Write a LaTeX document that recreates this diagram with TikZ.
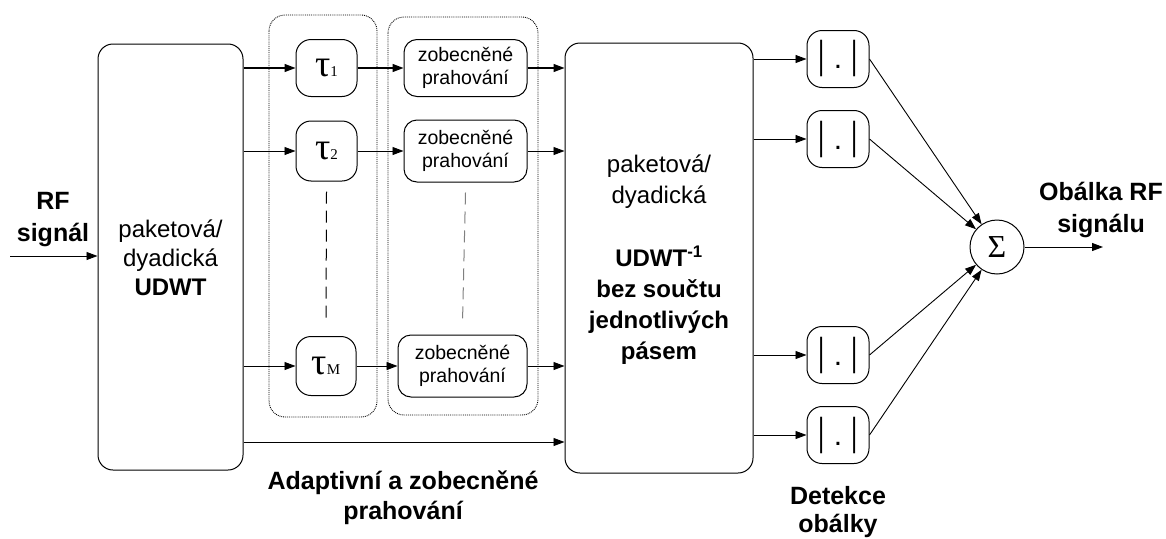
\documentclass[tikz,border=0pt]{standalone}
\usepackage{fontspec}
\usepackage{graphicx}
\setmainfont{Liberation Sans}
\newfontfamily\serifgr{Liberation Serif}
\usetikzlibrary{arrows.meta}
\newcommand\fReg{\fontsize{24pt}{29pt}\selectfont}
\newcommand\fMid{\fontsize{24pt}{31pt}\selectfont}
\newcommand\fBold{\fontsize{25pt}{32pt}\selectfont\bfseries}
\newcommand\fZob{\fontsize{19.5pt}{22.5pt}\selectfont}
\newcommand\tauLbl[1]{{\serifgr\fontsize{38pt}{38pt}\selectfont τ\fontsize{15pt}{15pt}\selectfont #1}}
\begin{document}
\begin{tikzpicture}[x=1pt,y=-1pt,
  box/.style={draw, line width=1pt, rounded corners=15pt, inner sep=0pt, align=center},
  arr/.style={-{Triangle[length=11pt,width=8pt]}, line width=0.9pt},
  arrb/.style={arr, line width=1.2pt},
  grp/.style={draw, densely dotted, line width=0.9pt, rounded corners=16pt},
  vdash/.style={line width=1pt, dash pattern=on 12pt off 7pt},
  lbl/.style={align=center, inner sep=0pt}
]
\useasboundingbox (0,0) rectangle (1166,538);

% dotted groups
\draw[grp] (269,15) rectangle (377,417);
\draw[grp] (388,17) rectangle (538,415);

% main boxes
\node[box, minimum width=145pt, minimum height=426pt] (lbox) at (170.5,257) {};
\node[lbl, font=\fReg] (ltxt) at (170.5,258) {paketová/\\dyadická\\\textbf{UDWT}};
\node[box, minimum width=188pt, minimum height=430pt] (mbox) at (659,258) {};
\node[lbl, font=\fMid] (mtxt) at (659,260) {paketová/\\dyadická\\[32pt]\textbf{UDWT\textsuperscript{-1}}\\\textbf{bez součtu}\\\textbf{jednotlivých}\\\textbf{pásem}};

% tau boxes
\node[box, minimum width=61pt, minimum height=57pt] (tau1) at (326.5,68) {\tauLbl{1}};
\node[box, minimum width=61pt, minimum height=60pt] (tau2) at (326.5,151) {\tauLbl{2}};
\node[box, minimum width=60pt, minimum height=59pt] (tauM) at (326,366) {\tauLbl{M}};

% thresholding boxes
\node[box, rounded corners=13pt, minimum width=123pt, minimum height=57pt, font=\fZob] (zob1) at (465.5,68) {zobecněné\\prahování};
\node[box, rounded corners=13pt, minimum width=123pt, minimum height=62pt, font=\fZob] (zob2) at (465.5,151) {zobecněné\\prahování};
\node[box, rounded corners=13pt, minimum width=129pt, minimum height=62pt, font=\fZob] (zobM) at (462.5,366) {zobecněné\\prahování};

% abs boxes
\foreach \n/\yy in {abs1/59, abs2/139, abs3/355, abs4/435}{
  \node[box, minimum width=62pt, minimum height=57pt, font=\fontsize{30pt}{30pt}\selectfont] (\n) at (838,\yy) {\scalebox{0.8}[1.3]{|}\hspace{0.32em}.\hspace{0.32em}\scalebox{0.8}[1.3]{|}};
}

% sum
\node[draw, circle, line width=1pt, minimum size=54pt, inner sep=0pt] (sig) at (997,247) {\serifgr\fontsize{32pt}{32pt}\selectfont Σ};

% coordinates
\coordinate (in) at (10,256);
\coordinate (out) at (1103,247);
\coordinate (byp) at (0,442);

% dashed continuation
\draw[vdash] ([yshift=-10pt]tau2.south) -- ([yshift=14pt]tauM.north);
\draw[vdash, gray] ([yshift=-10pt]zob2.south) -- ([yshift=12pt]zobM.north);

% connectors
\draw[arr] (in) -- (lbox.west |- in);
\draw[arrb] (lbox.east |- tau1) -- (tau1);
\draw[arr] (lbox.east |- tau2) -- (tau2);
\draw[arr] (lbox.east |- tauM) -- (tauM);
\draw[arrb] (tau1) -- (zob1);
\draw[arr] (tau2) -- (zob2);
\draw[arr] (tauM) -- (zobM);
\draw[arrb] (zob1) -- (mbox.west |- zob1);
\draw[arr] (zob2) -- (mbox.west |- zob2);
\draw[arr] (zobM) -- (mbox.west |- zobM);
\draw[arr] (lbox.east |- byp) -- (mbox.west |- byp);
\foreach \n in {abs1,abs2,abs3,abs4}{
  \draw[arr] (mbox.east |- \n) -- (\n);
  \draw[arr] (\n.east) -- (sig);
}
\draw[arr] (sig) -- (out);

% labels
\node[lbl, font=\fBold] (rf) at (53,220) {RF\\signál};
\node[lbl, font=\fBold] (obal) at (1101,210) {Obálka RF\\signálu};
\node[lbl, font=\fontsize{25pt}{30pt}\selectfont\bfseries] (adapt) at (403,498) {Adaptivní a zobecněné\\prahování};
\node[lbl, font=\fontsize{25pt}{28pt}\selectfont\bfseries] (detek) at (838,512) {Detekce\\obálky};
\end{tikzpicture}
\end{document}
